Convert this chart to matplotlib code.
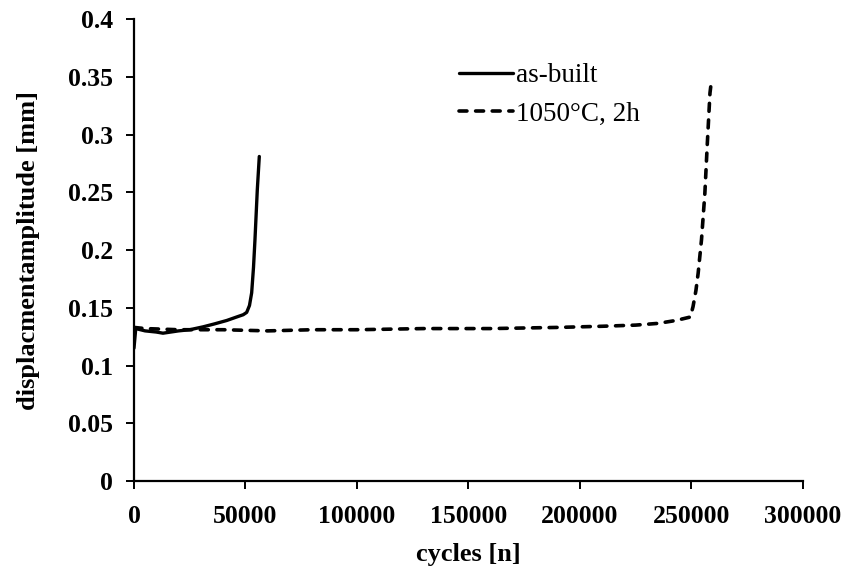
import matplotlib.pyplot as plt

# ── Data ────────────────────────────────────────────────────────────────────
as_built_x = [0, 800, 5000, 10000, 13000, 20000, 25000, 31000, 36000, 41600,
              46000, 49000, 50540, 51800, 52780, 53600, 54260, 55300, 56200]
as_built_y = [0.115, 0.132, 0.130, 0.129, 0.128, 0.130, 0.131, 0.1335, 0.136,
              0.139, 0.142, 0.144, 0.146, 0.152, 0.163, 0.185, 0.209, 0.252, 0.281]

heat_x = [0, 5000, 20000, 40000, 60000, 80000, 100000, 130000, 160000, 190000,
          210000, 225000, 235000, 243000, 249500, 250700, 252000, 253000,
          254500, 256000, 257100, 258300, 258800]
heat_y = [0.133, 0.132, 0.131, 0.131, 0.130, 0.131, 0.131, 0.132, 0.132, 0.133,
          0.134, 0.135, 0.1365, 0.139, 0.142, 0.151, 0.165, 0.180,
          0.209, 0.249, 0.292, 0.336, 0.344]

x_ticks = [0, 50000, 100000, 150000, 200000, 250000, 300000]
y_ticks = [0, 0.05, 0.1, 0.15, 0.2, 0.25, 0.3, 0.35, 0.4]
y_ticklabels = ["0", "0.05", "0.1", "0.15", "0.2", "0.25", "0.3", "0.35", "0.4"]

plt.rcParams["font.family"] = ["Liberation Serif", "DejaVu Serif"]

fig = plt.figure(figsize=(8.61, 5.71), dpi=100)
ax = fig.add_axes([0.1556, 0.1576, 0.777, 0.809])

ax.plot(as_built_x, as_built_y, color="black", lw=2.4,
        solid_capstyle="round", label="as-built")
ax.plot(heat_x, heat_y, color="black", lw=2.6, dashes=(2.2, 2.4),
        dash_capstyle="round", label="1050°C, 2h")

# ── Axes ─────────────────────────────────────────────────────────────────────
ax.set_xlim(0, 300000)
ax.set_ylim(0, 0.4)
ax.set_xticks(x_ticks)
ax.set_xticklabels([str(v) for v in x_ticks])
ax.set_yticks(y_ticks)
ax.set_yticklabels(y_ticklabels)

for side in ["top", "right"]:
    ax.spines[side].set_visible(False)
for side in ["left", "bottom"]:
    ax.spines[side].set_linewidth(1.6)

ax.tick_params(axis="both", direction="out", length=6, width=1.4,
               labelsize=18.5, pad=9)
ax.tick_params(axis="x", pad=11)
for lbl in ax.get_xticklabels() + ax.get_yticklabels():
    lbl.set_fontweight("bold")

ax.set_xlabel("cycles [n]", fontsize=19, fontweight="bold", labelpad=11)
ax.set_ylabel("displacmentamplitude [mm]", fontsize=19, fontweight="bold",
              labelpad=20)

# ── Legend ───────────────────────────────────────────────────────────────────
ax.legend(loc="upper left", bbox_to_anchor=(0.47, 0.928), frameon=False,
          fontsize=19.5, handlelength=2.0, handletextpad=0.1,
          labelspacing=0.5, borderaxespad=0)

fig.savefig("out.png", dpi=100, facecolor="white")
